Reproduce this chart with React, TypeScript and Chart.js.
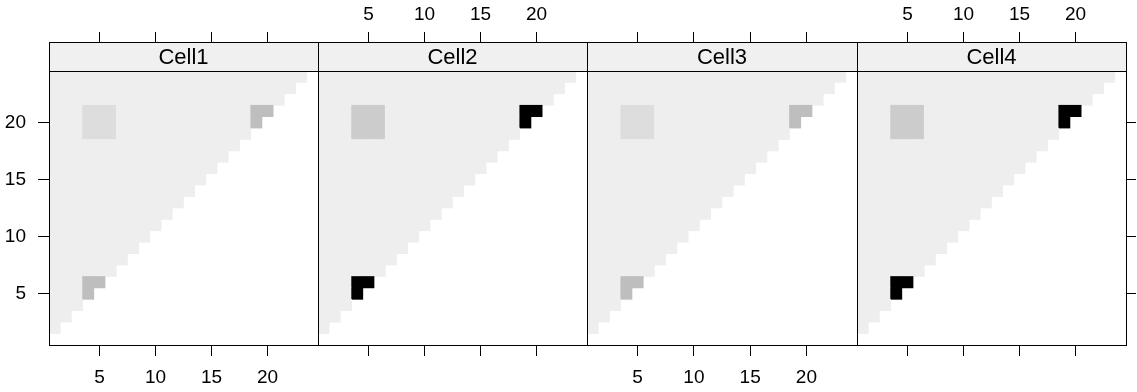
import React, { useEffect, useRef } from 'react';
import { Chart, registerables } from 'chart.js';

Chart.register(...registerables);

// ---- data ----
const panelNames = ['Cell1', 'Cell2', 'Cell3', 'Cell4'];
const gridIndex = [1, 2, 3, 4, 5, 6, 7, 8, 9, 10, 11, 12, 13, 14, 15, 16, 17, 18, 19, 20, 21, 22, 23, 24];
const tickValues = [5, 10, 15, 20];
// value of every cell below the diagonal (x < y)
const baseValues = [0.01, 0.01, 0.01, 0.01];
// 3x3 block
const blockCols = [4, 5, 6];
const blockRows = [19, 20, 21];
const blockValues = [0.08, 0.15, 0.08, 0.15];
// two 2x2 corner blocks next to the diagonal
const cornerCols = [[4, 5], [19, 20]];
const cornerRows = [[5, 6], [20, 21]];
const cornerValues = [0.21, 1.0, 0.21, 1.0];
// which panels carry tick labels
const bottomLabelPanels = [true, false, true, false];
const topLabelPanels = [false, true, false, true];

// ---- layout / style ----
const W = 1137;
const H = 392;
const panelEdges = [49, 318, 587, 857, 1126];
const FONT = 'Liberation Sans, Arial, sans-serif';
const TICK_FONT = 19;
const STRIP_FONT = 22;
const STRIP_FILL = '#f0f0f0';

function cellValue(p: number, x: number, y: number): number | null {
  if (!(x < y)) return null;
  for (let k = 0; k < cornerCols.length; k++) {
    if (cornerCols[k].includes(x) && cornerRows[k].includes(y)) return cornerValues[p];
  }
  if (blockCols.includes(x) && blockRows.includes(y)) return blockValues[p];
  return baseValues[p];
}

function greyFor(v: number): string {
  const g = Math.round(240 * (1 - v));
  return `rgb(${g},${g},${g})`;
}

const frame = {
  id: 'panelFrame',
  beforeDraw(chart: any) {
    const { ctx, chartArea } = chart;
    const tb = chart.titleBlock;
    ctx.save();
    ctx.fillStyle = STRIP_FILL;
    ctx.fillRect(chartArea.left, tb.top, chartArea.right - chartArea.left, tb.bottom - tb.top);
    ctx.restore();
  },
  afterDraw(chart: any) {
    const { ctx, chartArea } = chart;
    const tb = chart.titleBlock;
    const l = Math.round(chartArea.left);
    const r = Math.round(chartArea.right);
    const t = Math.round(chartArea.top);
    const b = Math.round(chartArea.bottom);
    const st = Math.round(tb.top);
    ctx.save();
    ctx.strokeStyle = '#000';
    ctx.lineWidth = 1;
    ctx.strokeRect(l + 0.5, st + 0.5, r - l, t - st);
    ctx.strokeRect(l + 0.5, t + 0.5, r - l, b - t);
    ctx.restore();
  },
};

function setTicks(scale: any) {
  scale.ticks = tickValues.map((v) => ({ value: v }));
}

function Panel({ p }: { p: number }) {
  const ref = useRef<HTMLCanvasElement>(null);
  useEffect(() => {
    const datasets = gridIndex
      .map((y) => ({
        label: 'row ' + y,
        data: gridIndex
          .filter((x) => cellValue(p, x, y) !== null)
          .map((x) => ({ x, y: [y - 0.5, y + 0.5], v: cellValue(p, x, y) })),
        backgroundColor: (ctx: any) => greyFor(ctx.raw ? ctx.raw.v : 0),
        borderWidth: 0,
        borderSkipped: false,
        grouped: false,
        barPercentage: 1,
        categoryPercentage: 1,
      }))
      .filter((d) => d.data.length > 0);

    const left = panelEdges[p];
    const right = panelEdges[p + 1];
    const showLeft = p === 0;
    const showRight = p === 3;
    const leftAxisW = showLeft ? 49 : 0;
    const rightAxisW = showRight ? 10 : 0;

    const chart = new Chart(ref.current!, {
      type: 'bar',
      data: { datasets } as any,
      plugins: [frame],
      options: {
        animation: false,
        responsive: false,
        devicePixelRatio: 1,
        layout: {
          padding: { left: left - leftAxisW, right: W - right - rightAxisW, top: 0, bottom: 0 },
        },
        plugins: {
          legend: { display: false },
          tooltip: { enabled: false },
          title: {
            display: true,
            text: panelNames[p],
            position: 'top',
            fullSize: false,
            color: '#000',
            font: { family: FONT, size: STRIP_FONT, weight: 'normal', lineHeight: '25px' },
            padding: { top: 3, bottom: 1 },
          },
        },
        scales: {
          x: {
            type: 'linear',
            position: 'bottom',
            offset: false,
            min: 0.5,
            max: 24.5,
            afterBuildTicks: setTicks,
            afterFit: (s: any) => { s.height = 47; },
            border: { display: false },
            grid: { offset: false, drawOnChartArea: false, drawTicks: true, tickLength: 11, tickColor: '#000', color: '#000' },
            ticks: {
              display: bottomLabelPanels[p],
              color: '#000',
              padding: 10,
              maxRotation: 0,
              autoSkip: false,
              font: { family: FONT, size: TICK_FONT },
              callback: (v: any) => String(v),
            },
          },
          x2: {
            type: 'linear',
            position: 'top',
            weight: 3000,
            offset: false,
            min: 0.5,
            max: 24.5,
            afterBuildTicks: setTicks,
            afterFit: (s: any) => { s.height = 42; },
            border: { display: false },
            grid: { offset: false, drawOnChartArea: false, drawTicks: true, tickLength: 10, tickColor: '#000', color: '#000' },
            ticks: {
              display: topLabelPanels[p],
              color: '#000',
              padding: 6,
              maxRotation: 0,
              autoSkip: false,
              font: { family: FONT, size: TICK_FONT },
              callback: (v: any) => String(v),
            },
          },
          y: {
            type: 'linear',
            position: 'left',
            display: showLeft,
            min: 0.5,
            max: 24.5,
            afterBuildTicks: setTicks,
            afterFit: (s: any) => { s.width = leftAxisW; },
            border: { display: false },
            grid: { drawOnChartArea: false, drawTicks: true, tickLength: 11, tickColor: '#000', color: '#000' },
            ticks: {
              color: '#000',
              padding: 12,
              autoSkip: false,
              font: { family: FONT, size: TICK_FONT },
              callback: (v: any) => String(v),
            },
          },
          y2: {
            type: 'linear',
            position: 'right',
            display: showRight,
            min: 0.5,
            max: 24.5,
            afterBuildTicks: setTicks,
            afterFit: (s: any) => { s.width = rightAxisW; },
            border: { display: false },
            grid: { drawOnChartArea: false, drawTicks: true, tickLength: 10, tickColor: '#000', color: '#000' },
            ticks: { display: false },
          },
        },
      } as any,
    });
    return () => chart.destroy();
  }, [p]);
  return (
    <canvas
      ref={ref}
      width={W}
      height={H}
      style={{ position: 'absolute', left: 0, top: 0, width: W, height: H }}
    />
  );
}

export default function App() {
  return (
    <div style={{ position: 'absolute', left: 0, top: 0, width: W, height: H, background: '#fff' }}>
      {panelNames.map((_, p) => (
        <Panel key={p} p={p} />
      ))}
    </div>
  );
}
